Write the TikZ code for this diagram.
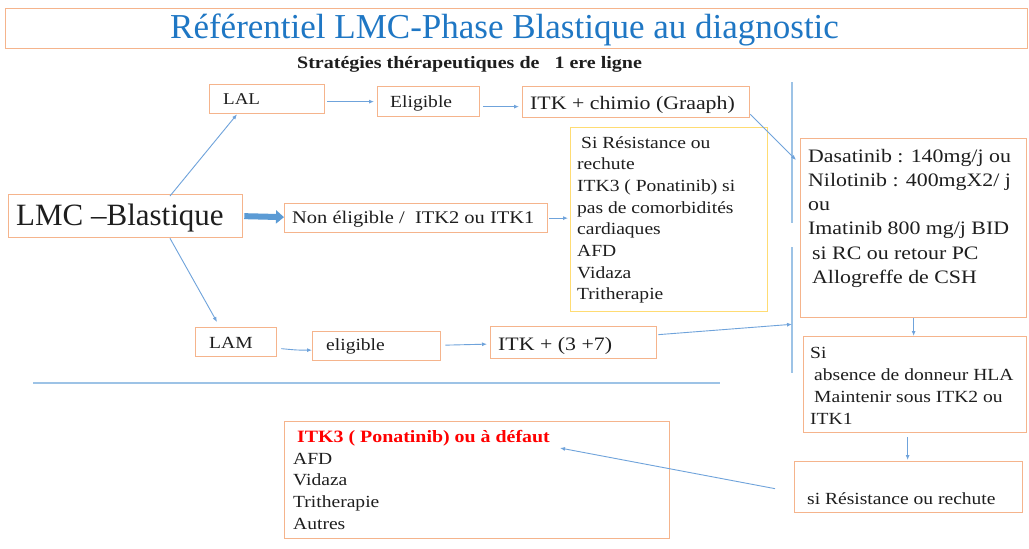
\documentclass[tikz,border=0pt]{standalone}
\usepackage{fontspec}
\setmainfont{Liberation Serif}[FakeStretch=1.15]
\newfontfamily\plainserif{Liberation Serif}
\usetikzlibrary{arrows.meta,calc}
\definecolor{boxc}{HTML}{F5B48C}
\definecolor{yboxc}{HTML}{FFDC73}
\definecolor{arrc}{HTML}{6FA3DB}
\definecolor{thickc}{HTML}{5B9BD5}
\definecolor{rulec}{HTML}{9DC3E6}
\definecolor{titc}{HTML}{1F77C4}
\definecolor{txtc}{HTML}{1E1E1E}
\definecolor{redc}{HTML}{FF0000}
\newcommand\fsz[2]{\fontsize{#1}{#2}\selectfont}
\begin{document}
\begin{tikzpicture}[x=1pt,y=-1pt,
  box/.style={draw=boxc,line width=1.3pt,anchor=north west,inner sep=0pt},
  ybox/.style={box,draw=yboxc},
  txt/.style={anchor=base west,inner sep=0pt,text=txtc,font=\fsz{17}{22}},
  conn/.style={draw=arrc,line width=0.9pt,-{Latex[length=5pt,width=4pt]}},
  thick conn/.style={draw=thickc,line width=6pt,-{Triangle[length=8pt,width=13pt]}},
  vrule/.style={draw=rulec,line width=1.3pt},
  hrule/.style={draw=rulec,line width=1.3pt}]
\useasboundingbox[fill=white] (0,0) rectangle (1029,549);

% ---------- boxes ----------
\node[box,minimum width=1022pt,minimum height=40pt] (tbox) at (5,8) {};
\node[box,minimum width=115pt,minimum height=29pt] (lal) at (209,84) {};
\node[box,minimum width=102pt,minimum height=30pt] (elig1) at (377,86) {};
\node[box,minimum width=227pt,minimum height=31pt] (itkc) at (522,86) {};
\node[box,minimum width=234pt,minimum height=43pt] (lmc) at (8,194) {};
\node[box,minimum width=263pt,minimum height=29pt] (non) at (284,203) {};
\node[ybox,minimum width=197pt,minimum height=184pt] (yel) at (570,127) {};
\node[box,minimum width=226pt,minimum height=179pt] (dasa) at (800,138) {};
\node[box,minimum width=223pt,minimum height=96pt] (siabs) at (803,336) {};
\node[box,minimum width=228pt,minimum height=51pt] (sires) at (794,461) {};
\node[box,minimum width=385pt,minimum height=117pt] (itk3) at (284,421) {};
\node[box,minimum width=81pt,minimum height=29pt] (lam) at (195,327) {};
\node[box,minimum width=128pt,minimum height=29pt] (elig2) at (312,331) {};
\node[box,minimum width=166pt,minimum height=32pt] (itk37) at (490,326) {};

% ---------- texts ----------
\node[anchor=base west,inner sep=0pt,text=titc,font=\plainserif\fsz{35}{40}] (title) at (170,38) {Référentiel LMC-Phase Blastique au diagnostic};
\node[txt,font=\fsz{17.4}{20}\bfseries] (subtitle) at (297,68) {Stratégies thérapeutiques de\ \ \ 1 ere ligne};
\node[txt,font=\fsz{16.5}{20}] (tlal) at (223,104) {LAL};
\node[txt] (telig1) at (390,107) {Eligible};
\node[txt,font=\fsz{19}{22}] (titkc) at (530,109) {ITK + chimio (Graaph)};
\node[txt,font=\plainserif\fsz{31}{36}] (tlmc) at (16,225) {LMC –Blastique};
\node[txt,font=\fsz{17.8}{22}] (tnon) at (292,223) {Non éligible /\ \ ITK2 ou ITK1};
\node[txt] (tyel) at (577,148) {\fsz{17}{21.7}\begin{tabular}[t]{@{}l@{}}\hspace*{4pt}Si Résistance ou\\rechute\\ITK3 ( Ponatinib) si\\pas de comorbidités\\cardiaques\\AFD\\Vidaza\\Tritherapie\end{tabular}};
\node[txt] (tdasa) at (808,162) {\fsz{19}{24.3}\begin{tabular}[t]{@{}l@{}}Dasatinib : 140mg/j ou\\Nilotinib : 400mgX2/ j\\ou\\Imatinib 800 mg/j BID\\\hspace*{4pt}si RC ou retour PC\\\hspace*{4pt}Allogreffe de CSH\end{tabular}};
\node[txt] (tsiabs) at (810,358) {\fsz{17}{22}\begin{tabular}[t]{@{}l@{}}Si\\\hspace*{4pt}absence de donneur HLA\\\hspace*{4pt}Maintenir sous ITK2 ou\\ITK1\end{tabular}};
\node[txt] (tsires) at (807,504) {si Résistance ou rechute};
\node[txt,font=\fsz{17.3}{22}\bfseries,text=redc] (tred) at (297,442) {ITK3 ( Ponatinib) ou à défaut};
\node[txt] (titk3) at (293,464) {\fsz{17}{21.8}\begin{tabular}[t]{@{}l@{}}AFD\\Vidaza\\Tritherapie\\Autres\end{tabular}};
\node[txt] (tlam) at (209,348) {LAM};
\node[txt] (telig2) at (326,350) {eligible};
\node[txt,font=\fsz{19}{22}] (titk37) at (498,350) {ITK + (3 +7)};

% ---------- rules ----------
\draw[vrule] (792,82) -- (792,223);
\draw[vrule] (792,247) -- (792,373);
\draw[hrule] (33,383) -- (720,383);

% ---------- connectors ----------
\draw[conn] ($(lmc.north west)+(162,2)$) -- ($(lal.south west)+(28,0)$);
\draw[conn] ($(lmc.south west)+(162,0)$) -- ($(lam.north west)+(22,-5)$);
\draw[thick conn] ($(lmc.east)+(1,0)$) -- ($(non.west)+(0,-1)$);
\draw[conn] ($(lal.east)+(2,2.5)$) -- ($(elig1.west)+(-3,0)$);
\draw[conn] ($(elig1.east)+(3,5)$) -- ($(itkc.west)+(-3,4.5)$);
\draw[conn] ($(itkc.south east)+(0,-4)$) -- ($(dasa.north west)+(-4,22)$);
\draw[conn] ($(non.east)+(1,0)$) -- ($(yel.west|-non.east)+(-2,0)$);
\draw[conn] ($(lam.east)+(4,6.5)$) .. controls ($(lam.east)+(20,8)$) .. ($(elig2.west)+(0,4)$);
\draw[conn] ($(elig2.east)+(4,-1)$) -- ($(itk37.west)+(-3,1.5)$);
\draw[conn] ($(itk37.east)+(1,-8)$) -- ($(dasa.south west)+(-8,6)$);
\draw[conn] (dasa.south) -- (dasa.south|-siabs.north);
\draw[conn] ($(sires.north)+(-1,-24)$) -- ($(sires.north)+(-1,-1)$);
\draw[conn] ($(sires.west)+(-19,1.5)$) -- ($(itk3.north west)+(276,27)$);
\end{tikzpicture}
\end{document}
